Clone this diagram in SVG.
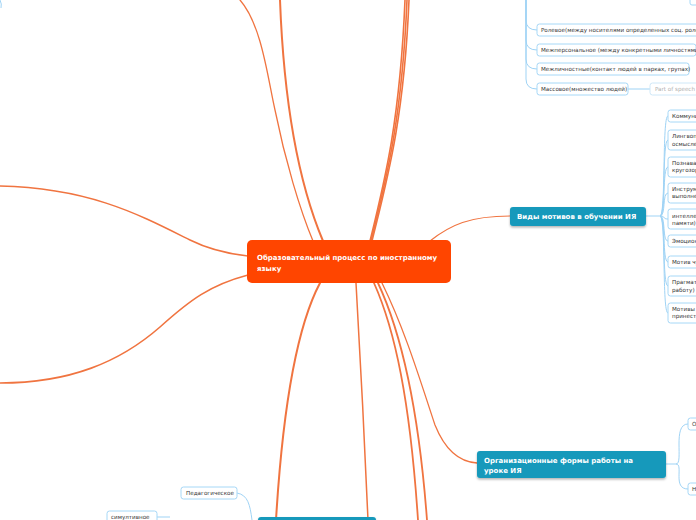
<svg xmlns="http://www.w3.org/2000/svg" width="696" height="520" viewBox="0 0 696 520">
<style>
.oc{fill:none;stroke:#F07440;stroke-linecap:round}
.bc{fill:none;stroke:#9FD3F5;stroke-width:1}
.box{fill:#fff;stroke:#A6D8F7;stroke-width:1}
.t{font-family:"DejaVu Sans",sans-serif;font-size:5.6px;fill:#333}
.tm{font-family:"DejaVu Sans",sans-serif;font-size:7px;font-weight:bold;fill:#fff}
.teal{fill:#1699BB}
</style>
<defs>
<filter id="sh" x="-10%" y="-30%" width="120%" height="170%">
<feDropShadow dx="0" dy="1.5" stdDeviation="1.2" flood-color="#000" flood-opacity="0.3"/>
</filter>
</defs>
<rect width="696" height="520" fill="#fff"/>
<g id="connectors">
<path class="oc" stroke-width="1.5" d="M0,186 C90,188 140,215 190,240 C210,250 230,254 248,256"/>
<path class="oc" stroke-width="1.6" d="M248,275 C210,285 190,300 160,327 C120,362 70,383 0,383"/>
<path class="oc" stroke-width="1.3" d="M240,0 C262,25 268,80 275,110 C285,160 300,210 313,241"/>
<path class="oc" stroke-width="2" d="M280,0 C283,80 293,170 323,241"/>
<path class="oc" stroke-width="1.6" d="M370,241 C385,180 400,120 405,0"/>
<path class="oc" stroke-width="1.6" d="M371,241 C386,180 402,120 407,0"/>
<path class="oc" stroke-width="1.6" d="M372,241 C387,180 404,120 409,0"/>
<path class="oc" stroke-width="1.2" d="M430,241 C450,225 470,216 510,216"/>
<path class="oc" stroke-width="1.3" d="M382,283 C405,330 420,380 435,425 C445,450 460,462 477,463"/>
<path class="oc" stroke-width="2" d="M320,283 C295,330 282,420 276,520"/>
<path class="oc" stroke-width="1.5" d="M356,283 C360,350 365,450 368,520"/>
<path class="oc" stroke-width="1.8" d="M374,283 C395,330 410,400 418,520"/>
<path class="oc" stroke-width="1.8" d="M378,283 C400,330 418,400 427,520"/>
<path class="bc" d="M0,0 Q2,4 1,8"/>
<path class="bc" d="M526,0 L526,20 Q526,30 537,30"/>
<path class="bc" d="M526,0 L526,40 Q526,50 537,50"/>
<path class="bc" d="M526,0 L526,59 Q526,69 537,69"/>
<path class="bc" d="M526,0 L526,79 Q526,89 537,89"/>
<path class="bc" d="M628,89 L650,89"/>
<path class="bc" d="M646,216 L660,216"/>
<path class="bc" d="M660,216 C666,216 662,116 668,116"/>
<path class="bc" d="M660,216 C666,216 662,140 668,140"/>
<path class="bc" d="M660,216 C666,216 662,167 668,167"/>
<path class="bc" d="M660,216 C666,216 662,193 668,193"/>
<path class="bc" d="M660,216 C666,216 662,219 668,219"/>
<path class="bc" d="M660,216 C666,216 662,241 668,241"/>
<path class="bc" d="M660,216 C666,216 662,262 668,262"/>
<path class="bc" d="M660,216 C666,216 662,286 668,286"/>
<path class="bc" d="M660,216 C666,216 662,313 668,313"/>
<path class="bc" d="M666,464 L676,464"/>
<path class="bc" d="M676,464 C684,464 672,424 688,424"/>
<path class="bc" d="M676,464 C684,464 672,489 688,489"/>
<path class="bc" d="M237,493 C248,495 250,505 252,520"/>
<path class="bc" d="M157,517 L170,517"/>
</g>
<g id="topbox"><rect class="box" x="690" y="-6" width="20" height="11" rx="2"/></g>
<g id="n-role"><rect class="box" x="537" y="24" width="170" height="12" rx="2.5"/><text class="t" x="541" y="32">Ролевое(между носителями определенных соц. ролей</text></g>
<g id="n-mezhpers"><rect class="box" x="537" y="44" width="159" height="12" rx="2.5"/><text class="t" x="541" y="52">Межперсональное (между конкретными личностями)</text></g>
<g id="n-mezhlich"><rect class="box" x="537" y="63" width="152" height="12" rx="2.5"/><text class="t" x="541" y="71">Межличностные(контакт людей в парках, групах)</text></g>
<g id="n-mass"><rect class="box" x="537" y="83" width="91" height="12" rx="2.5"/><text class="t" x="541" y="91">Массовое(множество людей)</text></g>
<g id="n-pos"><rect x="650" y="83" width="60" height="12" rx="2.5" fill="#fff" stroke="#CFE8F8"/><text class="t" x="655" y="91" style="fill:#b0b0b0">Part of speech</text></g>
<g id="center"><rect x="247" y="240" width="204" height="43" rx="5" fill="#FF4500"/><text class="tm" x="257" y="260">Образовательный процесс по иностранному</text><text class="tm" x="257" y="271">языку</text></g>
<g id="n-motives"><rect class="teal" x="510" y="207" width="136" height="19" rx="3" filter="url(#sh)"/><text class="tm" x="517" y="219">Виды мотивов в обучении ИЯ</text></g>
<g id="m1"><rect class="box" x="668" y="110" width="60" height="12" rx="2.5"/><text class="t" x="672" y="118">Коммуникативный</text></g>
<g id="m2"><rect class="box" x="668" y="130" width="60" height="20" rx="2.5"/><text class="t" x="672" y="138">Лингвопознавательный</text><text class="t" x="672" y="146">осмысление</text></g>
<g id="m3"><rect class="box" x="668" y="157" width="60" height="20" rx="2.5"/><text class="t" x="672" y="165">Познавательный</text><text class="t" x="672" y="172">кругозора</text></g>
<g id="m4"><rect class="box" x="668" y="183" width="60" height="20" rx="2.5"/><text class="t" x="672" y="191">Инструментальный</text><text class="t" x="672" y="198">выполнение</text></g>
<g id="m5"><rect class="box" x="668" y="209" width="60" height="20" rx="2.5"/><text class="t" x="672" y="218">интеллектуальный</text><text class="t" x="672" y="225">памяти)</text></g>
<g id="m6"><rect class="box" x="668" y="235" width="60" height="12" rx="2.5"/><text class="t" x="672" y="243">Эмоциональный</text></g>
<g id="m7"><rect class="box" x="668" y="256" width="60" height="12" rx="2.5"/><text class="t" x="672" y="264">Мотив чувства</text></g>
<g id="m8"><rect class="box" x="668" y="276" width="60" height="20" rx="2.5"/><text class="t" x="672" y="284">Прагматический</text><text class="t" x="672" y="292">работу)</text></g>
<g id="m9"><rect class="box" x="668" y="303" width="60" height="20" rx="2.5"/><text class="t" x="672" y="311">Мотивы</text><text class="t" x="672" y="318">принести</text></g>
<g id="n-org"><rect class="teal" x="477" y="451" width="189" height="27" rx="3" filter="url(#sh)"/><text class="tm" x="484" y="463">Организационные формы работы на</text><text class="tm" x="484" y="473">уроке ИЯ</text></g>
<g id="o1"><rect class="box" x="688" y="418" width="30" height="12" rx="2.5"/><text class="t" x="692" y="426">О</text></g>
<g id="o2"><rect class="box" x="688" y="483" width="30" height="12" rx="2.5"/><text class="t" x="692" y="491">Н</text></g>
<g id="n-bottom"><rect class="teal" x="258" y="517" width="118" height="20" rx="3" filter="url(#sh)"/></g>
<g id="n-ped"><rect class="box" x="181" y="487" width="56" height="12" rx="2.5"/><text class="t" x="186" y="495">Педагогическое</text></g>
<g id="n-sim"><rect class="box" x="107" y="511" width="50" height="12" rx="2.5"/><text class="t" x="111" y="519">симултивное</text></g>
</svg>
